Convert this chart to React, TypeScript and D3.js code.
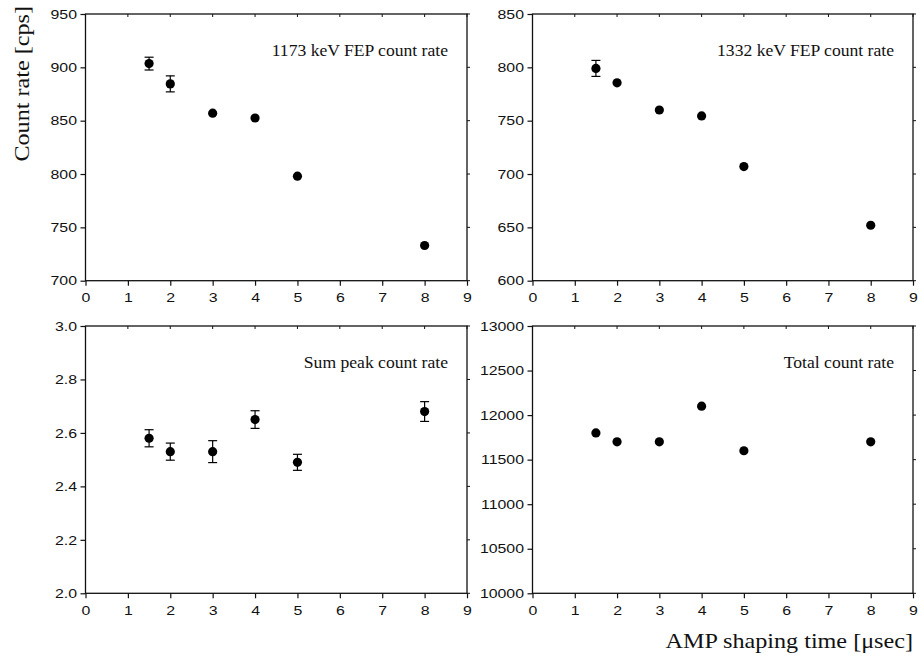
import React, { useEffect, useRef } from "react";
import * as d3 from "d3";

// shaping time [usec]
const shapingTimes = [1.5, 2, 3, 4, 5, 8];
const xTicks = [0, 1, 2, 3, 4, 5, 6, 7, 8, 9];

const fep1173 = [903.5, 884.5, 857, 852.5, 798, 733];
const fep1173Err = [6, 7.5, 0, 0, 0, 0];
const fep1173Ticks = [700, 750, 800, 850, 900, 950];

const fep1332 = [799, 785.5, 760, 754.5, 707, 652];
const fep1332Err = [7.5, 0, 0, 0, 0, 0];
const fep1332Ticks = [600, 650, 700, 750, 800, 850];

const sumPeak = [2.58, 2.53, 2.53, 2.65, 2.49, 2.68];
const sumPeakErr = [0.032, 0.032, 0.041, 0.033, 0.03, 0.037];
const sumPeakTicks = [2.0, 2.2, 2.4, 2.6, 2.8, 3.0];

const totalRate = [11800, 11700, 11700, 12100, 11600, 11700];
const totalRateErr = [0, 0, 0, 0, 0, 0];
const totalRateTicks = [10000, 10500, 11000, 11500, 12000, 12500, 13000];

const SERIF = "'Liberation Serif', 'Times New Roman', serif";
const SANS = "'Liberation Sans', Arial, sans-serif";

// the original figure is a bit wider than the fonts we have, stretch text to match
function stretch(sel: any, factor: number) {
  sel.each(function (this: SVGTextElement) {
    const w = this.getComputedTextLength();
    if (w > 0) {
      this.setAttribute("textLength", String(w * factor));
      this.setAttribute("lengthAdjust", "spacingAndGlyphs");
    }
  });
}

function App() {
  const ref = useRef<SVGSVGElement>(null);

  useEffect(() => {
    const svg = d3.select(ref.current);
    svg.selectAll("*").remove();

    const panels = [
      { left: 85.5, right: 467, top: 14, bottom: 280.7, vals: fep1173, errs: fep1173Err, ticks: fep1173Ticks, fmt: d3.format("d"), label: "1173 keV FEP count rate" },
      { left: 532.5, right: 913, top: 14, bottom: 280.7, vals: fep1332, errs: fep1332Err, ticks: fep1332Ticks, fmt: d3.format("d"), label: "1332 keV FEP count rate" },
      { left: 85.5, right: 467, top: 326, bottom: 593.3, vals: sumPeak, errs: sumPeakErr, ticks: sumPeakTicks, fmt: d3.format(".1f"), label: "Sum peak count rate" },
      { left: 532.5, right: 913, top: 326, bottom: 593.3, vals: totalRate, errs: totalRateErr, ticks: totalRateTicks, fmt: d3.format("d"), label: "Total count rate" },
    ];

    panels.forEach(p => {
      const x = d3.scaleLinear().domain([0, 9]).range([p.left, p.right]);
      const y = d3.scaleLinear().domain([p.ticks[0], p.ticks[p.ticks.length - 1]]).range([p.bottom, p.top]);
      const g = svg.append("g");

      // frame
      g.append("rect")
        .attr("x", p.left).attr("y", p.top)
        .attr("width", p.right - p.left).attr("height", p.bottom - p.top)
        .attr("fill", "none").attr("stroke", "#111").attr("stroke-width", 1.3);

      // bottom axis
      const xAxis = d3.axisBottom(x).tickValues(xTicks).tickSize(5).tickPadding(7.5).tickFormat(d3.format("d"));
      g.append("g")
        .attr("transform", "translate(0," + p.bottom + ")")
        .call(xAxis)
        .call(a => a.select(".domain").remove())
        .call(a => a.selectAll("line").attr("stroke", "#111").attr("stroke-width", 1.2))
        .call(a => a.selectAll("text").style("font-family", SANS).style("font-size", "13px").attr("fill", "#111"))
        .call(a => stretch(a.selectAll("text"), 1.22));

      // left axis
      const yAxis = d3.axisLeft(y).tickValues(p.ticks).tickSize(5).tickPadding(3.5).tickFormat(p.fmt as any);
      g.append("g")
        .attr("transform", "translate(" + p.left + ",0)")
        .call(yAxis)
        .call(a => a.select(".domain").remove())
        .call(a => a.selectAll("line").attr("stroke", "#111").attr("stroke-width", 1.2))
        .call(a => a.selectAll("text").style("font-family", SANS).style("font-size", "13px").attr("fill", "#111"))
        .call(a => stretch(a.selectAll("text"), 1.22));

      // small mirror ticks on top and right
      g.selectAll(".ttick").data(xTicks).enter().append("line")
        .attr("x1", d => x(d)).attr("x2", d => x(d))
        .attr("y1", p.top).attr("y2", p.top + 3)
        .attr("stroke", "#111").attr("stroke-width", 1);
      g.selectAll(".rtick").data(p.ticks).enter().append("line")
        .attr("x1", p.right).attr("x2", p.right + 3)
        .attr("y1", d => y(d)).attr("y2", d => y(d))
        .attr("stroke", "#111").attr("stroke-width", 1);

      const pts = shapingTimes.map((t, i) => ({ t, v: p.vals[i], e: p.errs[i] }));

      // error bars
      const eb = g.selectAll(".eb").data(pts.filter(d => d.e > 0)).enter().append("g");
      eb.append("line")
        .attr("x1", d => x(d.t)).attr("x2", d => x(d.t))
        .attr("y1", d => y(d.v - d.e)).attr("y2", d => y(d.v + d.e))
        .attr("stroke", "#000").attr("stroke-width", 1.2);
      [-1, 1].forEach(s => {
        eb.append("line")
          .attr("x1", d => x(d.t) - 4.5).attr("x2", d => x(d.t) + 4.5)
          .attr("y1", d => y(d.v + s * d.e)).attr("y2", d => y(d.v + s * d.e))
          .attr("stroke", "#000").attr("stroke-width", 1.2);
      });

      g.selectAll(".pt").data(pts).enter().append("circle")
        .attr("cx", d => x(d.t)).attr("cy", d => y(d.v))
        .attr("r", 4.6).attr("fill", "#000");

      const lbl = g.append("text")
        .attr("x", p.right - 19).attr("y", p.top + 42)
        .attr("text-anchor", "end")
        .style("font-family", SERIF).style("font-size", "16px")
        .attr("fill", "#111")
        .text(p.label);
      stretch(lbl, 1.1);
    });

    const yTitle = svg.append("text")
      .attr("transform", "translate(29,6) rotate(-90)")
      .attr("text-anchor", "end")
      .style("font-family", SERIF).style("font-size", "21px")
      .attr("fill", "#111")
      .text("Count rate [cps]");
    stretch(yTitle, 1.15);

    const xTitle = svg.append("text")
      .attr("x", 913).attr("y", 648)
      .attr("text-anchor", "end")
      .style("font-family", SERIF).style("font-size", "21px")
      .attr("fill", "#111")
      .text("AMP shaping time [\u03bcsec]");
    stretch(xTitle, 1.15);
  }, []);

  return (
    <svg ref={ref} width={921} height={661}
      style={{ position: "absolute", left: 0, top: 0, background: "#fff" }} />
  );
}

export default App;
